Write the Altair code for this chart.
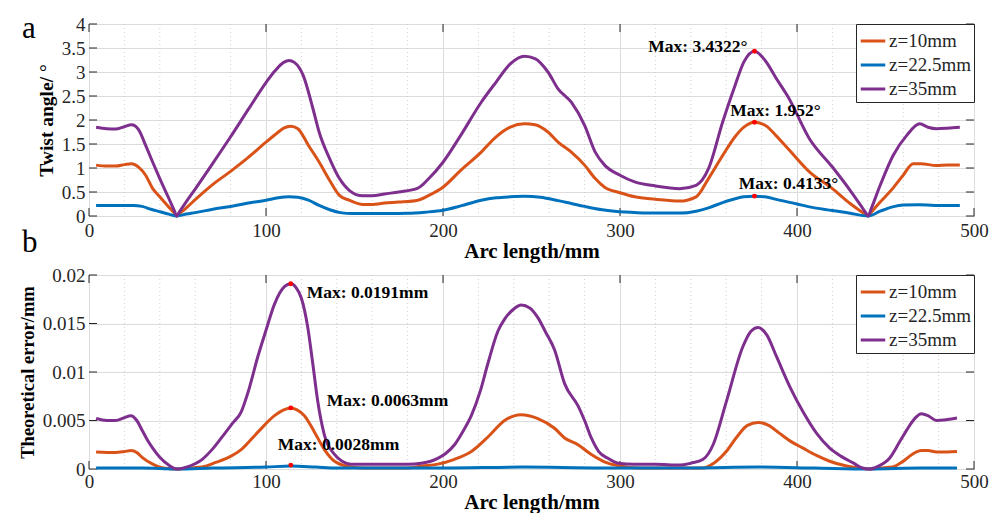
import altair as alt
import pandas as pd

FONT = "Liberation Serif"
series = ["z=10mm", "z=22.5mm", "z=35mm"]
palette = ["#D95319", "#0072BD", "#7E2F8E"]

x_major = [0, 100, 200, 300, 400, 500]
x_minor = [20, 40, 60, 80, 120, 140, 160, 180, 220, 240, 260, 280,
           320, 340, 360, 380, 420, 440, 460, 480]
a_yticks = [0, 0.5, 1, 1.5, 2, 2.5, 3, 3.5, 4]
b_yticks = [0, 0.005, 0.01, 0.015, 0.02]

# ---------------- panel a : twist angle ----------------
a10_x = [4, 10, 15, 20, 24, 28, 32, 36, 40, 45, 48, 49.6, 51, 55, 60, 70, 80, 90, 100, 106,
         110, 114, 118, 124, 130, 136, 141.5, 147, 154.7, 160, 167, 175, 185.8, 192, 200, 210,
         221.6, 230, 238, 246, 252, 259.3, 265, 272.5, 280, 286, 291.3, 300, 308.3, 320, 333.7,
         343, 350, 358, 365, 370, 376, 382, 388, 395, 407, 420, 430, 436, 438.6, 440.2, 441.8,
         447, 454, 460, 465.6, 470, 478.8, 485, 492]
a10_y = [1.06, 1.04, 1.04, 1.07, 1.09, 1.02, 0.85, 0.57, 0.40, 0.19, 0.07, 0.0, 0.045, 0.17,
         0.34, 0.66, 0.93, 1.22, 1.54, 1.72, 1.83, 1.87, 1.82, 1.47, 1.125, 0.74, 0.43, 0.33,
         0.24, 0.24, 0.27, 0.29, 0.33, 0.43, 0.60, 0.95, 1.33, 1.65, 1.85, 1.92, 1.90, 1.75,
         1.54, 1.33, 1.06, 0.78, 0.60, 0.485, 0.40, 0.35, 0.31, 0.40, 0.78, 1.26, 1.65, 1.85,
         1.952, 1.89, 1.68, 1.40, 0.92, 0.57, 0.26, 0.10, 0.04, 0.0, 0.07, 0.29, 0.57, 0.85,
         1.09, 1.09, 1.05, 1.06, 1.06]

a22_x = [4, 15, 25, 30, 35, 40, 45, 49.6, 55, 60, 70, 80, 90, 100, 107, 113, 118, 124, 130,
         136, 142, 149, 160, 170, 180, 190, 200, 210, 221.6, 230, 238, 246, 255, 265, 272.5,
         280, 290, 297, 310, 320, 334, 343, 350, 358, 365, 370, 376, 382, 390, 400, 407, 420,
         430, 440.2, 447, 454, 460, 469, 478, 492]
a22_y = [0.22, 0.22, 0.22, 0.20, 0.14, 0.09, 0.04, 0.0, 0.04, 0.07, 0.14, 0.20, 0.27, 0.33,
         0.38, 0.40, 0.39, 0.33, 0.22, 0.13, 0.07, 0.05, 0.05, 0.05, 0.055, 0.08, 0.12, 0.21,
         0.33, 0.38, 0.40, 0.41, 0.39, 0.32, 0.26, 0.20, 0.13, 0.10, 0.07, 0.06, 0.06, 0.10,
         0.17, 0.28, 0.36, 0.40, 0.4133, 0.40, 0.33, 0.25, 0.19, 0.115, 0.058, 0.0, 0.10, 0.19,
         0.23, 0.235, 0.22, 0.22]

a35_x = [4, 10, 15, 20, 24, 28, 32, 36, 40, 45, 48, 49.6, 51, 55, 60, 70, 80, 90, 100, 105,
         110, 113, 116, 121, 126.5, 130, 136, 141.5, 147, 154.7, 160, 167, 175, 185.8, 192,
         200, 210, 221.6, 230, 238, 246, 252, 259.3, 265, 272.5, 280, 286, 291.3, 300, 308.3,
         320, 333.7, 343, 350, 358, 365, 370, 376, 382, 388.4, 395, 407, 420, 430, 436, 438.6,
         440.2, 441.8, 447, 454.3, 462, 469.4, 474, 478.8, 485, 492]
a35_y = [1.85, 1.82, 1.81, 1.86, 1.90, 1.80, 1.47, 1.12, 0.78, 0.375, 0.13, 0.0, 0.08, 0.30,
         0.56, 1.10, 1.65, 2.22, 2.78, 3.02, 3.20, 3.24, 3.20, 2.93, 2.24, 1.75, 1.19, 0.78,
         0.535, 0.42, 0.42, 0.46, 0.50, 0.58, 0.78, 1.12, 1.68, 2.37, 2.79, 3.17, 3.33, 3.28,
         3.0, 2.65, 2.37, 1.89, 1.33, 1.06, 0.85, 0.71, 0.625, 0.57, 0.64, 0.985, 1.96, 2.72,
         3.21, 3.4322, 3.24, 2.86, 2.48, 1.61, 1.02, 0.535, 0.22, 0.08, 0.0, 0.14, 0.64, 1.26,
         1.68, 1.92, 1.85, 1.82, 1.83, 1.85]

a_max_x = [376, 376, 376]
a_max_y = [3.4322, 1.952, 0.4133]
a_max_label = ["Max: 3.4322°", "Max: 1.952°", "Max: 0.4133°"]

# ---------------- panel b : theoretical error ----------------
b10_x = [4, 10, 15, 20, 23.7, 27, 30, 36, 42, 49.6, 56, 64, 72, 80, 86, 95.4, 104.8, 110, 114,
         117.5, 121.7, 127.4, 133, 138.7, 148, 155, 170, 180, 187.7, 197, 206.5, 216, 225.4,
         234.8, 244, 253.6, 263, 268.7, 276.3, 283.8, 293.2, 300, 310, 334, 347, 353, 360, 366,
         372, 378, 384, 390, 396, 403.4, 411, 418.5, 428, 435, 440.8, 447, 454, 460, 465,
         470.3, 474, 478.8, 485, 490.4]
b10_y = [0.00175, 0.0017, 0.0017, 0.0018, 0.0019, 0.0017, 0.0012, 0.0005, 0.0001, 0.0, 0.0001,
         0.0002, 0.0007, 0.0013, 0.0020, 0.0038, 0.0055, 0.0061, 0.0063, 0.0061, 0.0055, 0.0038,
         0.0020, 0.0008, 0.0002, 0.0001, 0.0001, 0.0001, 0.0003, 0.0005, 0.0010, 0.0018,
         0.0033, 0.0050, 0.0056, 0.0052, 0.0042, 0.0032, 0.0025, 0.0015, 0.0006, 0.0003,
         0.0001, 0.0001, 0.0001, 0.0006, 0.0018, 0.0033, 0.0045, 0.0048, 0.0045, 0.0037,
         0.0029, 0.00215, 0.0014, 0.0008, 0.0003, 0.0001, 0.0, 0.0001, 0.0002, 0.0008, 0.0015,
         0.0019, 0.0019, 0.00175, 0.00175, 0.0018]

b22_x = [4, 30, 49.6, 70, 100, 114, 128, 140, 200, 245, 290, 340, 378, 410, 440.8, 470, 490.4]
b22_y = [0.0001, 0.0001, 0.0, 0.0001, 0.0002, 0.0003, 0.0002, 0.0001, 0.0001, 0.0002, 0.0001,
         0.0001, 0.0002, 0.0001, 0.0, 0.0001, 0.0001]

b35_x = [4, 10, 15, 20, 23.7, 27, 30, 33, 36, 40, 45, 49.6, 55, 64, 70, 76, 81, 86, 90, 95.4,
         100, 104.8, 110.4, 114, 117, 120, 123.6, 126.4, 129.3, 133, 138.7, 143, 148, 155, 167,
         180, 187.7, 193, 197, 201.5, 206.5, 211, 216, 221, 225.4, 231, 235, 240, 244.2, 249,
         253.6, 258, 263, 268.7, 276.3, 280, 283.8, 288, 293.2, 299, 308, 320, 334, 340, 347,
         352.6, 360, 369.4, 374, 378, 383, 388.4, 395.9, 403.4, 411, 418.5, 425, 432, 437,
         440.8, 446, 452.4, 458, 463.7, 467, 470.3, 474, 478.8, 485, 490.4]
b35_y = [0.0052, 0.0050, 0.0050, 0.0053, 0.0055, 0.0050, 0.0040, 0.0030, 0.00215, 0.0012,
         0.0004, 0.0, 0.0002, 0.0010, 0.0021, 0.0035, 0.0047, 0.0059, 0.0080, 0.0116,
         0.0143, 0.0170, 0.0188, 0.0191, 0.0187, 0.0176, 0.0146, 0.0109, 0.0069, 0.0035,
         0.0015, 0.0008, 0.0005, 0.0005, 0.0005, 0.0005, 0.0006, 0.0008, 0.0011, 0.0016,
         0.0025, 0.0038, 0.0055, 0.0080, 0.0109, 0.0142, 0.0155, 0.0165, 0.0169, 0.0166,
         0.0156, 0.0141, 0.0123, 0.0088, 0.0065, 0.0050, 0.0032, 0.0018, 0.0011, 0.0006,
         0.0005, 0.0005, 0.0004, 0.0006, 0.0010, 0.0025, 0.0069, 0.0126, 0.0142, 0.0146,
         0.0138, 0.0116, 0.0085, 0.0059, 0.0037, 0.00215, 0.0013, 0.0006, 0.0001, 0.0,
         0.0003, 0.00114, 0.0028, 0.0045, 0.0053, 0.0057, 0.0055, 0.0050, 0.0051, 0.00525]

b_max_x = [114, 114, 114]
b_max_y = [0.0191, 0.0063, 0.0004]
b_max_label = ["Max: 0.0191mm", "Max: 0.0063mm", "Max: 0.0028mm"]

W = 885
HA = 192
HB = 194
TICK = 8
INK = "#262626"


def series_df(xs_list, ys_list):
    rows = []
    for name, xs, ys in zip(series, xs_list, ys_list):
        rows += [{"s": x, "v": y, "series": name} for x, y in zip(xs, ys)]
    return pd.DataFrame(rows)


def panel(df, yticks, ymax, ytitle, ytitle_size, H, xlab_pad, mx, my, mlabels,
          text_styles, letters):
    X = alt.X("s:Q", scale=alt.Scale(domain=[0, 500], nice=False, zero=False),
              axis=alt.Axis(values=x_major, title="Arc length/mm", format="d",
                            labelFlush=False, labelPadding=xlab_pad, titlePadding=0,
                            titleFontSize=21, grid=True))
    Y = alt.Y("v:Q", scale=alt.Scale(domain=[0, ymax], nice=False),
              axis=alt.Axis(values=yticks, title=ytitle, format="~g", labelFlush=False,
                            labelPadding=4, titlePadding=5, titleFontSize=ytitle_size,
                            grid=True))

    minor = alt.Chart(pd.DataFrame({"s": x_minor})).mark_rule(
        color="#cfcfcf", strokeDash=[1, 3], strokeWidth=1
    ).encode(x=X)

    lines = alt.Chart(df).mark_line(strokeWidth=3, interpolate="monotone").encode(
        x=X, y=Y,
        color=alt.Color("series:N", scale=alt.Scale(domain=series, range=palette),
                        sort=series,
                        legend=alt.Legend(title=None, orient="top-right")),
        order=alt.Order("s:Q"),
    )

    xt = pd.DataFrame({"s": x_major})
    yt = pd.DataFrame({"v": yticks})
    tb = alt.Chart(xt).mark_rule(color=INK).encode(x=X, y=alt.value(H), y2=alt.value(H - TICK))
    tt = alt.Chart(xt).mark_rule(color=INK).encode(x=X, y=alt.value(0), y2=alt.value(TICK))
    tl = alt.Chart(yt).mark_rule(color=INK).encode(y=Y, x=alt.value(0), x2=alt.value(TICK))
    tr = alt.Chart(yt).mark_rule(color=INK).encode(y=Y, x=alt.value(W - TICK), x2=alt.value(W))

    ann = pd.DataFrame({"s": mx, "v": my, "label": mlabels})
    dots = alt.Chart(ann).mark_circle(color="#ff0000", size=24, opacity=1).encode(x=X, y=Y)

    layers = [minor, tb, tt, tl, tr, lines, dots]
    for i, (align, dx, dy) in enumerate(text_styles):
        layers.append(
            alt.Chart(ann.iloc[[i]]).mark_text(
                font=FONT, fontSize=17.5, fontWeight="bold", color="#000000",
                align=align, baseline="middle", dx=dx, dy=dy
            ).encode(x=X, y=Y, text="label:N")
        )
    for letter, lx, ly in letters:
        layers.append(
            alt.Chart(pd.DataFrame({"t": [letter]})).mark_text(
                font=FONT, fontSize=31, align="left", baseline="alphabetic", color="#000000"
            ).encode(x=alt.value(lx), y=alt.value(ly), text="t:N")
        )
    return alt.layer(*layers).properties(width=W, height=H)


top = panel(series_df([a10_x, a22_x, a35_x], [a10_y, a22_y, a35_y]),
            a_yticks, 4, "Twist angle/ °", 19.5, HA, 5,
            a_max_x, a_max_y, a_max_label,
            [("right", -7, -4), ("center", 21, -11), ("center", 34, -12)],
            [("a", -67, 14), ("b", -67, HA + 36)])

bottom = panel(series_df([b10_x, b22_x, b35_x], [b10_y, b22_y, b35_y]),
               b_yticks, 0.02, "Theoretical error/mm", 18.5, HB, 3,
               b_max_x, b_max_y, b_max_label,
               [("left", 16, 9), ("left", 36, -7), ("left", -13, -20)],
               [])

chart = alt.vconcat(top, bottom, spacing=3).resolve_legend(color="independent").properties(
    padding={"left": 9, "top": 4, "right": 0, "bottom": 0}
).configure_view(
    stroke=INK, strokeWidth=1
).configure_axis(
    labelFont=FONT, labelFontSize=19, labelColor=INK,
    titleFont=FONT, titleFontWeight="bold", titleColor="#000000",
    ticks=False, domain=False, gridColor="#dcdcdc", gridWidth=1
).configure_legend(
    strokeColor=INK, fillColor="white", padding=3, offset=0, cornerRadius=0,
    symbolType="stroke", symbolSize=600, symbolStrokeWidth=3,
    labelFont=FONT, labelFontSize=19, labelColor=INK, labelOffset=2, rowPadding=0
)

chart.save("out.html", embed_options={"renderer": "svg", "actions": False})
